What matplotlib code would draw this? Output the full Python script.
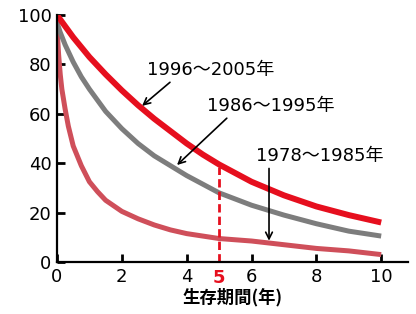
"""Survival curves by diagnosis period (reference chart recreation)."""
import matplotlib
matplotlib.use('Agg')
import matplotlib.pyplot as plt
import matplotlib.transforms as mtransforms

plt.rcParams['font.family'] = ['DejaVu Sans', 'Noto Sans CJK JP']

# Survival (%)
years_a = [0, 0.25, 0.5, 0.75, 1, 1.5, 2, 2.5, 3, 3.5, 4, 4.5, 5, 5.5, 6, 7, 8, 9, 10]
surv_1996_2005 = [100, 95.5, 91, 87, 83, 76, 69.5, 63.5, 58, 53, 48, 43.5, 39.5, 36, 32.5,
                  27, 22.5, 19, 16]

years_b = [0, 0.1, 0.25, 0.5, 0.75, 1, 1.5, 2, 2.5, 3, 3.5, 4, 5, 6, 7, 8, 9, 10]
surv_1986_1995 = [97, 93, 88, 81, 75, 70, 61, 54, 48, 43, 39, 35, 28, 23, 19, 15.5, 12.5, 10.5]

years_c = [0, 0.05, 0.1, 0.15, 0.25, 0.35, 0.5, 0.75, 1, 1.25, 1.5, 2, 2.5, 3, 3.5, 4, 5, 6,
           7, 8, 9, 10]
surv_1978_1985 = [95, 84, 76, 70, 62, 55, 47, 39, 32.5, 28.5, 25, 20.5, 17.5, 15, 13, 11.5,
                  9.5, 8.5, 7, 5.5, 4.5, 3]

labels = ['1996～2005年', '1986～1995年', '1978～1985年']
x_ticks = [0, 2, 4, 6, 8, 10]
y_ticks = [0, 20, 40, 60, 80, 100]
mark_year = 5

fig = plt.figure(figsize=(4.16, 3.14), dpi=100)
ax = fig.add_axes([0.137, 0.1656, 0.844, 0.788])

ax.plot(years_c, surv_1978_1985, color='#cf4f5a', lw=3.6, solid_capstyle='butt',
        solid_joinstyle='round')
ax.plot(years_b, surv_1986_1995, color='#7d7d7d', lw=3.6, solid_capstyle='butt',
        solid_joinstyle='round')
ax.plot(years_a, surv_1996_2005, color='#e60f1e', lw=4.3, solid_capstyle='butt',
        solid_joinstyle='round')

# dashed marker at 5 years
ax.plot([mark_year, mark_year], [0, 38.5], color='#e60f1e', lw=2, ls=(0, (3, 1.5)))

ax.set_xlim(0, 10.83)
ax.set_ylim(0, 100.2)
for side in ['top', 'right']:
    ax.spines[side].set_visible(False)
for side in ['left', 'bottom']:
    ax.spines[side].set_linewidth(1.6)
ax.set_xticks(x_ticks)
ax.set_yticks(y_ticks)
ax.tick_params(direction='in', length=5.5, width=2, labelsize=13, pad=4)

trans = mtransforms.blended_transform_factory(ax.transData, ax.transAxes)
ax.text(mark_year, -0.03, '5', transform=trans, color='#e60f1e', fontsize=13,
        fontweight='bold', ha='center', va='top')

ax.set_xlabel('生存期間(年)', fontsize=12.5, fontweight='bold', labelpad=2,
              family=['Noto Sans CJK JP'])

arrow = dict(arrowstyle='->', color='black', lw=1.2, mutation_scale=12)
ax.text(4.75, 77.7, labels[0], fontsize=13, ha='center', va='center')
ax.annotate('', xy=(2.56, 62.5), xytext=(3.55, 73.5), arrowprops=arrow)
ax.text(6.6, 63, labels[1], fontsize=13, ha='center', va='center')
ax.annotate('', xy=(3.64, 38.5), xytext=(5.3, 59), arrowprops=arrow)
ax.text(8.1, 43, labels[2], fontsize=13, ha='center', va='center')
ax.annotate('', xy=(6.54, 7.5), xytext=(6.54, 39), arrowprops=arrow)

plt.savefig('out.png', dpi=100)
